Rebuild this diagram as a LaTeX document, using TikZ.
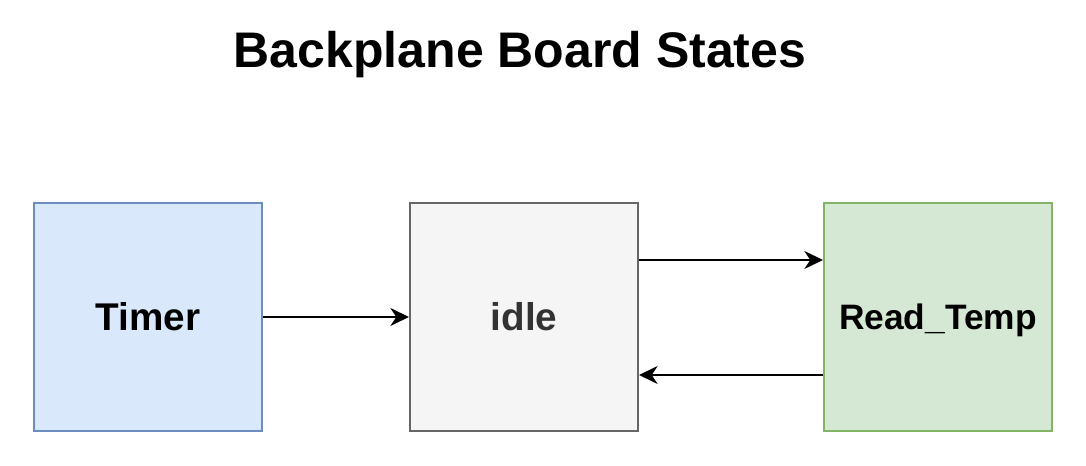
\documentclass[tikz,border=0pt]{standalone}
\usepackage{fontspec}
\setmainfont{Liberation Sans}
\usetikzlibrary{arrows.meta,positioning}

\definecolor{timerfill}{HTML}{DAE8FC}
\definecolor{timerline}{HTML}{6C8EBF}
\definecolor{idlefill}{HTML}{F5F5F5}
\definecolor{idleline}{HTML}{666666}
\definecolor{idletext}{HTML}{333333}
\definecolor{readfill}{HTML}{D5E8D4}
\definecolor{readline}{HTML}{82B366}

\begin{document}
\begin{tikzpicture}[x=0.75pt, y=0.75pt,
    >={Stealth[length=14pt, width=13.5pt, inset=4.5pt]},
    state/.style={draw, line width=1.5pt, minimum width=171pt,
      minimum height=171pt, inner sep=0pt, font=\bfseries\fontsize{29}{34}\selectfont},
    link/.style={->, line width=1.5pt, black}]

  % Moldura
  \useasboundingbox (0,0) rectangle (1086,466);

  % Titulo
  \node (title) at (520,411) {\bfseries\fontsize{37.5}{44}\selectfont Backplane Board States};

  % Estados
  \node[state, fill=timerfill, draw=timerline] (timer) at (148,149) {Timer};
  \node[state, fill=idlefill, draw=idleline, text=idletext] (idle) at (524,149) {idle};
  \node[state, fill=readfill, draw=readline, text depth=0pt,
        font=\bfseries\fontsize{26.5}{32}\selectfont] (readtemp) at (938,149) {Read\_Temp};

  % Transicoes
  \draw[link] (timer.east) -- (idle.west);
  \draw[link] ([yshift=42.75pt]idle.east) -- ([yshift=42.75pt]readtemp.west);
  \draw[link] ([yshift=-43.5pt]readtemp.west) -- ([yshift=-43.5pt]idle.east);

\end{tikzpicture}
\end{document}
